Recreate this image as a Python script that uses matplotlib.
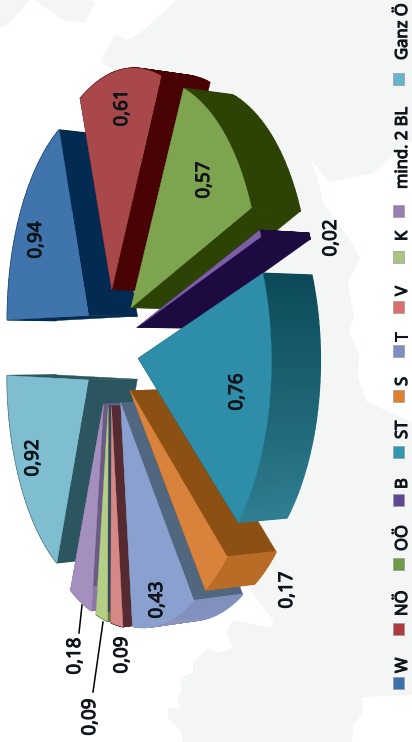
import numpy as np
import matplotlib
matplotlib.use("Agg")
import matplotlib.pyplot as plt
import matplotlib.patheffects as pe
from matplotlib.patches import Polygon, Rectangle
from matplotlib.colors import to_rgb

# ---- data ----
categories = ["W", "NÖ", "OÖ", "B", "ST", "S", "T", "V", "K", "mind. 2 BL", "Ganz Ö"]
values = [0.94, 0.61, 0.57, 0.02, 0.76, 0.17, 0.43, 0.09, 0.09, 0.18, 0.92]
value_labels = ["0,94", "0,61", "0,57", "0,02", "0,76", "0,17", "0,43", "0,09", "0,09", "0,18", "0,92"]

# ---- styles ----
face_colors = ["#3f74ad", "#a9484b", "#7fa44f", "#7d5fa6", "#2e8da8", "#d8823b",
               "#8aa1d0", "#d68887", "#b4cf85", "#a48fbe", "#7fbdd1"]
edge_colors = ["#032b52", "#4a0305", "#2d4306", "#1c0a40", "#0f4a58", "#8c5012",
               "#50677f", "#552a30", "#33495c", "#6a5a85", "#2b565f"]
arc_start = ["#032b52", "#4a0305", "#2d4306", "#1c0a40", "#0c4a58", "#b86c25",
             "#8090bd", "#552a30", "#5f7a40", "#8a78a5", "#2b565f"]
arc_end = ["#032b52", "#4a0305", "#2d4306", "#1c0a40", "#2f7f92", "#b86c25",
           "#8a94bf", "#552a30", "#5f7a40", "#8a78a5", "#2b565f"]
swatch_colors = ["#3a70ab", "#b0383f", "#6f9a45", "#5f4795", "#2f97b0", "#de8030",
                 "#7d8fc2", "#d9706f", "#a8c680", "#9a7fb5", "#66b4cc"]

# layout (pixels)
W_PX, H_PX = 412, 742
CX, CY = 110, 348
RX, RY = 101, 216
PERSP_X, PERSP_Y = 0.164, 0.165
EXPLODE = 0.27
DEPTH = 49
DEPTH_YSCALE = 0.975
label_pos = [(36, 240), (122, 108), (204, 180), (331, 238), (237, 392), (287, 590),
             (157, 600), (122, 655), (90, 717), (75, 656), (33, 458)]
legend_swatch_y = [683, 629, 564, 500, 452, 396, 351, 307, 257, 211, 79]
legend_text_bottom = [673, 616, 551, 489, 439, 386, 341, 296, 241, 189, 60]

plt.rcParams["font.family"] = ["Open Sans", "DejaVu Sans"]
fig = plt.figure(figsize=(W_PX / 100, H_PX / 100), dpi=100)
ax = fig.add_axes([0, 0, 1, 1])
ax.set_xlim(0, W_PX)
ax.set_ylim(H_PX, 0)
ax.axis("off")

# faint map in the background
map_main = [(177, 0), (412, 0), (412, 140), (373, 173), (330, 182), (311, 160), (318, 180), (323, 203),
            (350, 240), (360, 258), (348, 282), (354, 317), (349, 331), (359, 354), (358, 378),
            (367, 402), (412, 422), (412, 695), (363, 697), (362, 713), (353, 727), (352, 742),
            (182, 742), (182, 732), (168, 718), (168, 708), (180, 708), (177, 698), (182, 692),
            (180, 678), (193, 673), (193, 662), (207, 649), (218, 653), (233, 648), (227, 632),
            (233, 620), (272, 628), (273, 620), (250, 590), (220, 440), (200, 300), (165, 100),
            (100, 62), (115, 35), (127, 40), (140, 33)]
map_bits = [[(0, 0), (30, 0), (10, 22), (0, 28)],
            [(35, 0), (63, 20), (85, 23), (95, 3), (92, 0)]]
for shape in [map_main] + map_bits:
    ax.add_patch(Polygon(shape, closed=True, fc="#f4f5f5", ec="none", zorder=0))


def project(a, b, top=True):
    x = CX + RX * a / (1.0 - PERSP_X * a)
    y = CY + RY * b / (1.0 - PERSP_Y * a)
    if not top:
        x = x + DEPTH
        y = CY + (y - CY) * DEPTH_YSCALE
    return x, y


def direction(theta):
    return -np.cos(theta), -np.sin(theta)


vals = np.array(values)
edges = np.concatenate([[0], np.cumsum(vals)]) / vals.sum() * 2 * np.pi
mids = (edges[:-1] + edges[1:]) / 2
order = np.argsort(direction(mids)[0])  # back (left) to front (right)


def mix(c1, c2, t):
    c1, c2 = np.array(to_rgb(c1)), np.array(to_rgb(c2))
    return tuple(c1 + (c2 - c1) * t)


for z, i in enumerate(order):
    t0, t1 = edges[i], edges[i + 1]
    ma, mb = direction(mids[i])
    oa, ob = EXPLODE * ma, EXPLODE * mb
    thetas = np.linspace(t0, t1, 40)
    da, db = direction(thetas)
    arc_a, arc_b = oa + da, ob + db
    base = 10 + z * 5
    # straight walls
    for th_a, th_b in ((arc_a[0], arc_b[0]), (arc_a[-1], arc_b[-1])):
        aa = np.linspace(oa, th_a, 20)
        bb = np.linspace(ob, th_b, 20)
        tx, ty = project(aa, bb, True)
        bx, by = project(aa, bb, False)
        pts = np.column_stack([np.r_[tx, bx[::-1]], np.r_[ty, by[::-1]]])
        ax.add_patch(Polygon(pts, closed=True, fc=edge_colors[i], ec=edge_colors[i], lw=0.3, zorder=base))
    # outer wall
    tx, ty = project(arc_a, arc_b, True)
    bx, by = project(arc_a, arc_b, False)
    for k in range(len(thetas) - 1):
        c = mix(arc_start[i], arc_end[i], k / (len(thetas) - 2))
        q = [(tx[k], ty[k]), (tx[k + 1], ty[k + 1]), (bx[k + 1], by[k + 1]), (bx[k], by[k])]
        ax.add_patch(Polygon(q, closed=True, fc=c, ec=c, lw=1.0, zorder=base + 1))
    # top face
    ox, oy = project(oa, ob, True)
    pts = np.column_stack([np.r_[ox, tx], np.r_[oy, ty]])
    ax.add_patch(Polygon(pts, closed=True, fc=face_colors[i], ec=face_colors[i], lw=0.3, zorder=base + 2))

bolden = [pe.withStroke(linewidth=0.8, foreground="#10151c")]

# value labels
for lab, (x, y) in zip(value_labels, label_pos):
    ax.text(x, y, lab, rotation=90, ha="center", va="center", fontsize=13.5,
            color="#10151c", zorder=200, path_effects=bolden)

# leader lines
ax.plot([82, 79], [605, 633], color="black", lw=1.1, zorder=199)
ax.plot([103, 93], [622, 692], color="black", lw=1.1, zorder=199)

# legend
for name, col, sy, ty in zip(categories, swatch_colors, legend_swatch_y, legend_text_bottom):
    ax.add_patch(Rectangle((393.5, sy - 6), 11, 12, fc=col, ec="#9a9a9a", lw=0.5, zorder=200))
    ax.text(407, ty, name, rotation=90, ha="left", va="baseline", rotation_mode="anchor",
            fontsize=12, color="#10151c", zorder=200, path_effects=bolden)

fig.savefig("out.png", dpi=100)
